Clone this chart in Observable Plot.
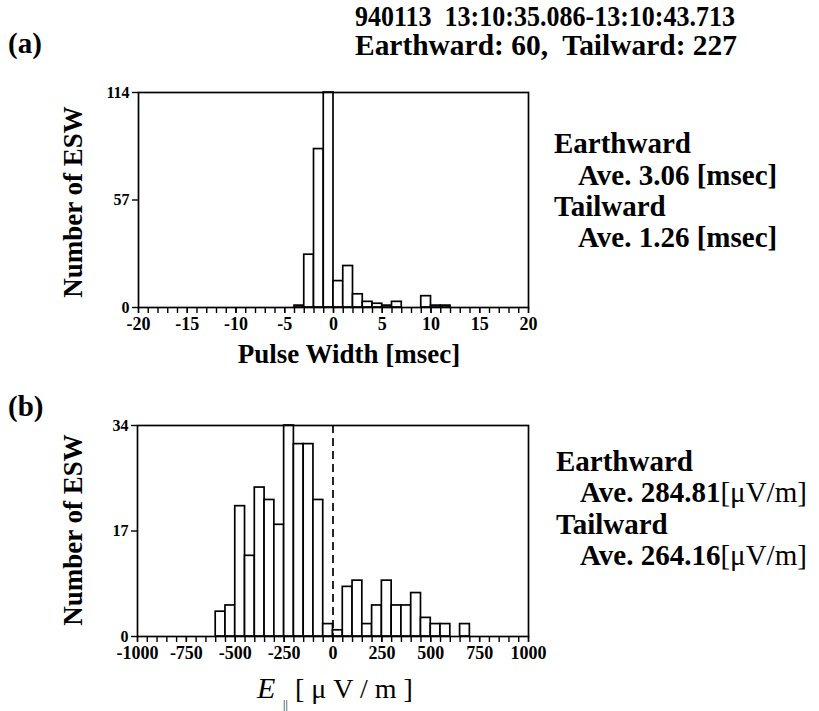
<!DOCTYPE html>
<html>
<head>
<meta charset="utf-8">
<script src="https://cdn.jsdelivr.net/npm/d3@7"></script>
<script src="https://cdn.jsdelivr.net/npm/@observablehq/plot@0.6"></script>
<style>
  html, body { margin: 0; padding: 0; background: #fff; }
  #page { position: relative; width: 819px; height: 711px; overflow: hidden; background: #fff; }
  .panel { position: absolute; left: 0; }
  .panel svg text { font-family: "Liberation Serif", "Times New Roman", serif !important; font-weight: bold !important; fill: #000; }
  .panel svg g[aria-label="x-axis tick label"] text { font-size: 18px !important; }
  .panel svg g[aria-label="y-axis tick label"] text { font-size: 16px !important; }
  #overlay { position: absolute; left: 0; top: 0; pointer-events: none; }
  #overlay text { font-family: "Liberation Serif", "Times New Roman", serif; fill: #000; }
  .b { font-weight: bold; }
</style>
</head>
<body>
<div id="page">
  <div id="panelA" class="panel" style="top:80px"></div>
  <div id="panelB" class="panel" style="top:413px"></div>
  <svg id="overlay" width="819" height="711">
    <text class="b" x="355" y="26" font-size="29" textLength="380" lengthAdjust="spacingAndGlyphs" xml:space="preserve">940113  13:10:35.086-13:10:43.713</text>
    <text class="b" x="8" y="53" font-size="29">(a)</text>
    <text class="b" x="355" y="55" font-size="29" textLength="382" lengthAdjust="spacingAndGlyphs" xml:space="preserve">Earthward: 60,  Tailward: 227</text>

    <text class="b" x="554" y="153" font-size="29">Earthward</text>
    <text class="b" x="578" y="185" font-size="29">Ave. 3.06 [msec]</text>
    <text class="b" x="554" y="216" font-size="29">Tailward</text>
    <text class="b" x="578" y="247" font-size="29">Ave. 1.26 [msec]</text>

    <text class="b" x="349" y="363" font-size="27" text-anchor="middle">Pulse Width [msec]</text>
    <text class="b" font-size="27" text-anchor="middle" transform="translate(82,202) rotate(-90)">Number of ESW</text>

    <text class="b" x="8" y="416" font-size="29">(b)</text>
    <text class="b" font-size="27" text-anchor="middle" transform="translate(82,530) rotate(-90)">Number of ESW</text>

    <text class="b" x="556" y="471" font-size="29">Earthward</text>
    <text x="580" y="502" font-size="29"><tspan class="b">Ave. 284.81</tspan><tspan>[μV/m]</tspan></text>
    <text class="b" x="556" y="534" font-size="29">Tailward</text>
    <text x="580" y="565" font-size="29"><tspan class="b">Ave. 264.16</tspan><tspan>[μV/m]</tspan></text>

    <text x="257" y="698" font-size="30" font-style="italic">E</text>
    <text x="283" y="709" font-size="12">||</text>
    <text x="295" y="698" font-size="28" xml:space="preserve">[ μ V / m ]</text>
  </svg>
</div>
<script>
// ---- Panel (a): pulse width histogram (bin width 1 msec) ----
const pulseBinLeft = [-4, -3, -2, -1, 0, 1, 2, 3, 4, 5, 6, 9, 10, 11];
const pulseCounts  = [ 1, 28, 84, 114, 14, 22, 7, 3, 2, 1, 3, 6, 1, 1];
const pulseBinWidth = 1;
const pulseYTicks = [0, 57, 114];
const pulseXLabels = [-20, -15, -10, -5, 0, 5, 10, 15, 20];
const pulseXMinor = [-20,-19,-18,-17,-16,-15,-14,-13,-12,-11,-10,-9,-8,-7,-6,-5,-4,-3,-2,-1,0,1,2,3,4,5,6,7,8,9,10,11,12,13,14,15,16,17,18,19,20];

// ---- Panel (b): E-parallel histogram (bin width 50 µV/m) ----
const eBinLeft = [-600,-550,-500,-450,-400,-350,-300,-250,-200,-150,-100,-50,0,50,100,150,200,250,300,350,400,450,500,550,650];
const eCounts  = [   4,   5,  21,  13,  24,  22,  18,  34,  31,  31,  22,  2,1, 8,  9,  2,  5,  9,  5,  5,  7,  3,  2,  2,  2];
const eBinWidth = 50;
const eYTicks = [0, 17, 34];
const eXLabels = [-1000, -750, -500, -250, 0, 250, 500, 750, 1000];
const eXMinor = [-1000,-950,-900,-850,-800,-750,-700,-650,-600,-550,-500,-450,-400,-350,-300,-250,-200,-150,-100,-50,0,50,100,150,200,250,300,350,400,450,500,550,600,650,700,750,800,850,900,950,1000];

const pulseData = pulseBinLeft.map((x, i) => ({x1: x, x2: x + pulseBinWidth, y: pulseCounts[i]}));
const eData = eBinLeft.map((x, i) => ({x1: x, x2: x + eBinWidth, y: eCounts[i]}));

const baseStyle = {
  fontFamily: '"Liberation Serif", "Times New Roman", serif',
  fontWeight: "bold",
  fontSize: "17px",
  background: "transparent",
  overflow: "visible",
  color: "black"
};
const fmt = d => `${d}`;

function histo({data, xDomain, yDomain, yTicks, xLabels, xMinor, height, marginLeft, dashed}) {
  return Plot.plot({
    width: 560,
    height,
    marginLeft,
    marginRight: 32,
    marginTop: 12,
    marginBottom: 30,
    style: baseStyle,
    x: {domain: xDomain},
    y: {domain: yDomain},
    marks: [
      Plot.rectY(data, {x1: "x1", x2: "x2", y: "y", fill: "white", stroke: "black", strokeWidth: 1.7}),
      dashed ? Plot.ruleX([0], {stroke: "black", strokeWidth: 1.7, strokeDasharray: "8,5"}) : null,
      Plot.frame({stroke: "black", strokeWidth: 1.7}),
      Plot.axisX({ticks: xMinor, tickSize: 6, tickFormat: () => "", strokeWidth: 1.4, label: null, ariaLabel: "x-axis minor tick"}),
      Plot.axisX({ticks: xLabels, tickSize: 6, tickPadding: 4, tickFormat: fmt, strokeWidth: 1.4, label: null}),
      Plot.axisY({ticks: yTicks, tickSize: 6, tickPadding: 3, tickFormat: fmt, strokeWidth: 1.4, label: null})
    ]
  });
}

document.getElementById("panelA").appendChild(histo({
  data: pulseData, xDomain: [-20, 20], yDomain: [0, 114], yTicks: pulseYTicks,
  xLabels: pulseXLabels, xMinor: pulseXMinor, height: 257, marginLeft: 138, dashed: false
}));
document.getElementById("panelB").appendChild(histo({
  data: eData, xDomain: [-1000, 1000], yDomain: [0, 34], yTicks: eYTicks,
  xLabels: eXLabels, xMinor: eXMinor, height: 253, marginLeft: 137, dashed: true
}));
</script>
</body>
</html>
